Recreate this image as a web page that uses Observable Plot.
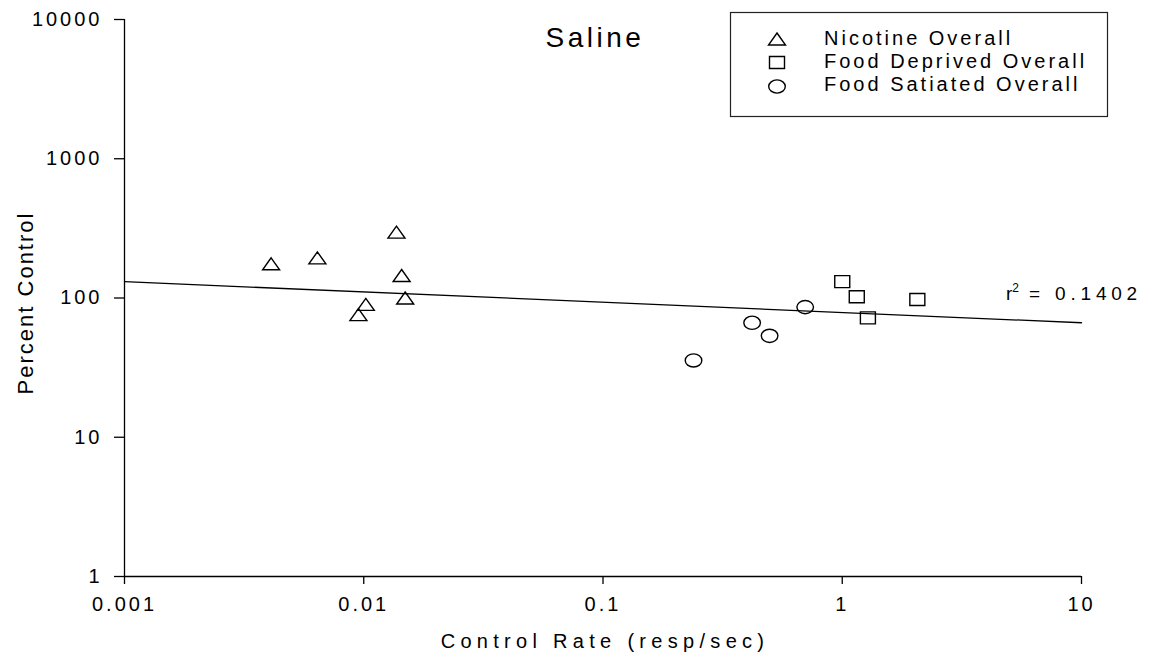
<!DOCTYPE html>
<html><head><meta charset="utf-8">
<script src="https://cdn.jsdelivr.net/npm/d3@7"></script>
<script src="https://cdn.jsdelivr.net/npm/@observablehq/plot@0.6"></script>
<style>
html,body{margin:0;padding:0;background:#fff;}
#chart svg{display:block;}
#chart g[aria-label="x-axis tick label"] text,
#chart g[aria-label="y-axis tick label"] text{letter-spacing:3px;}
</style></head>
<body><div id="chart"></div>
<script>
// ---- data ----
const nicotineX = [0.0041, 0.0064, 0.0137, 0.0144, 0.0149, 0.0102, 0.0095];
const nicotineY = [176, 194, 297, 145, 100, 90, 76];
const deprivedX = [1.0, 1.15, 1.28, 2.06];
const deprivedY = [131, 102, 72, 97.5];
const satiatedX = [0.239, 0.42, 0.497, 0.70];
const satiatedY = [35.6, 66.4, 53.5, 86];
const fitX = [0.001, 10];
const fitY = [131, 66.4];
const xTicks = [0.001, 0.01, 0.1, 1, 10];
const yTicks = [1, 10, 100, 1000, 10000];
const seriesNames = ["Nicotine Overall", "Food Deprived Overall", "Food Satiated Overall"];
const titleText = "Saline";
const xLabel = "Control Rate (resp/sec)";
const yLabel = "Percent Control";
const r2Value = "0.1402";

// ---- symbols (slightly wide, like the original) ----
const triangleSym = {draw(c){ c.moveTo(0,-6); c.lineTo(8.5,6); c.lineTo(-8.5,6); c.closePath(); }};
const squareSym = {draw(c){ c.moveTo(-7.5,-6); c.lineTo(7.5,-6); c.lineTo(7.5,6); c.lineTo(-7.5,6); c.closePath(); }};
const ellipseSym = {draw(c){
  const rx=8.3, ry=6.6, k=0.5523;
  c.moveTo(rx,0);
  c.bezierCurveTo(rx, ry*k, rx*k, ry, 0, ry);
  c.bezierCurveTo(-rx*k, ry, -rx, ry*k, -rx, 0);
  c.bezierCurveTo(-rx, -ry*k, -rx*k, -ry, 0, -ry);
  c.bezierCurveTo(rx*k, -ry, rx, -ry*k, rx, 0);
  c.closePath();
}};
const symbols = [triangleSym, squareSym, ellipseSym];

const toRows = (xs, ys) => xs.map((x, i) => ({x, y: ys[i]}));
const nicotine = toRows(nicotineX, nicotineY);
const deprived = toRows(deprivedX, deprivedY);
const satiated = toRows(satiatedX, satiatedY);
const fit = toRows(fitX, fitY);

const font = "'Liberation Sans', Arial, Helvetica, sans-serif";

const fig = Plot.plot({
  width: 1153, height: 667,
  marginLeft: 124, marginRight: 72, marginTop: 19, marginBottom: 91,
  style: {fontFamily: font, fontSize: "20px", color: "#000", background: "#fff", overflow: "visible"},
  x: {type: "log", domain: [0.001, 10]},
  y: {type: "log", domain: [1, 10000]},
  marks: [
    Plot.ruleX([0.001], {stroke: "#000", strokeWidth: 1.3}),
    Plot.ruleY([1], {stroke: "#000", strokeWidth: 1.3}),
    Plot.axisX({ticks: xTicks, tickSize: 8, tickPadding: 12, tickFormat: d => String(d), fontSize: 20, label: null, strokeWidth: 1.3}),
    Plot.axisY({ticks: yTicks, tickSize: 10, tickPadding: 12, tickFormat: d => String(d), fontSize: 20, label: null, strokeWidth: 1.3}),
    Plot.line(fit, {x: "x", y: "y", stroke: "#000", strokeWidth: 1.3}),
    Plot.dot(nicotine, {x: "x", y: "y", symbol: triangleSym, stroke: "#000", fill: "none", strokeWidth: 1.4}),
    Plot.dot(deprived, {x: "x", y: "y", symbol: squareSym, stroke: "#000", fill: "none", strokeWidth: 1.4}),
    Plot.dot(satiated, {x: "x", y: "y", symbol: ellipseSym, stroke: "#000", fill: "none", strokeWidth: 1.4})
  ]
});
document.getElementById("chart").appendChild(fig);

const svg = d3.select(fig);
// Title
svg.append("text").attr("x", 595).attr("y", 47).attr("text-anchor", "middle")
  .attr("font-family", font).attr("font-size", 28).attr("letter-spacing", "3.5px").attr("fill", "#000")
  .text(titleText);
// X label
svg.append("text").attr("x", 605).attr("y", 648).attr("text-anchor", "middle")
  .attr("font-family", font).attr("font-size", 20).attr("letter-spacing", "5.3px").attr("fill", "#000")
  .text(xLabel);
// Y label
svg.append("text").attr("transform", "translate(33,303) rotate(-90)").attr("text-anchor", "middle")
  .attr("font-family", font).attr("font-size", 22).attr("letter-spacing", "2px").attr("fill", "#000")
  .text(yLabel);
// r^2 annotation
const r2 = svg.append("text").attr("x", 1006).attr("y", 300).attr("text-anchor", "start")
  .attr("font-family", font).attr("font-size", 19).attr("fill", "#000");
r2.append("tspan").text("r");
r2.append("tspan").attr("font-size", 12).attr("dy", -8).text("2");
r2.append("tspan").attr("dy", 8).attr("letter-spacing", "4.8px").text(" = " + r2Value);

// Legend
const lg = svg.append("g");
lg.append("rect").attr("x", 730.5).attr("y", 12.5).attr("width", 377).attr("height", 104)
  .attr("fill", "#fff").attr("stroke", "#222").attr("stroke-width", 1.2);
const textBase = [45, 68, 91];
const symY = [39, 62.5, 86.5];
seriesNames.forEach((name, i) => {
  lg.append("path").attr("d", d3.symbol(symbols[i])()).attr("transform", `translate(777,${symY[i]})`)
    .attr("fill", "none").attr("stroke", "#000").attr("stroke-width", 1.4);
  lg.append("text").attr("x", 824).attr("y", textBase[i]).attr("text-anchor", "start")
    .attr("font-family", font).attr("font-size", 20).attr("letter-spacing", "3px").attr("fill", "#000")
    .text(name);
});
</script>
</body></html>
